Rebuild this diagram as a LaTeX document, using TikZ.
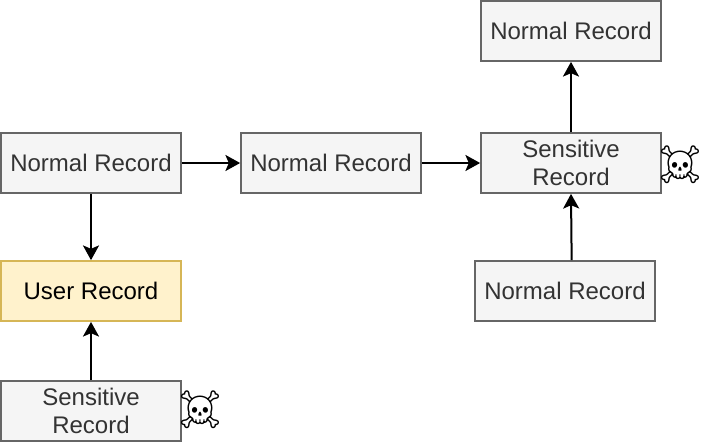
\documentclass[tikz,border=0pt]{standalone}
\usepackage{fontspec}
\setmainfont{Liberation Sans}
\newfontfamily\emojifont{Noto Emoji}
\usetikzlibrary{arrows.meta}
\definecolor{recfill}{HTML}{F5F5F5}
\definecolor{recline}{HTML}{666666}
\definecolor{userfill}{HTML}{FFF2CC}
\definecolor{userline}{HTML}{D6B656}
\tikzset{
	rec/.style={draw=recline,fill=recfill,line width=1.3pt,minimum width=135pt,minimum height=45pt,inner sep=0pt,align=center,text=black!80,font=\fontsize{18}{21}\selectfont},
	urec/.style={rec,draw=userline,fill=userfill,text=black},
	skull/.style={inner sep=0pt,font=\emojifont\fontsize{28}{28}\selectfont},
	conn/.style={-{Stealth[length=11pt,width=12pt,inset=2.5pt]},line width=1.5pt}
}
\begin{document}
\begin{tikzpicture}[x=0.75pt,y=-0.75pt]
	\useasboundingbox (0,0) rectangle (704,444);
	\node [rec] (n1) at (91,163) {Normal Record};
	\node [rec] (n2) at (331,163) {Normal Record};
	\node [rec] (s1) at (571,163) {Sensitive\\Record};
	\node [rec] (n3) at (571,31) {Normal Record};
	\node [rec] (n4) at (565,291) {Normal Record};
	\node [urec] (u1) at (91,291) {User Record};
	\node [rec] (s2) at (91,411) {Sensitive\\Record};
	\node [skull] (k1) at (680,165) {☠};
	\node [skull] (k2) at (200,410) {☠};
	\coordinate (n4top) at ([xshift=5pt]n4.north);

	\draw [conn] (n1) -- (n2);
	\draw [conn] (n2) -- (s1);
	\draw [conn] (s1) -- (n3);
	\draw [conn] (n4top) -- (s1.south);
	\draw [conn] (n1) -- (u1);
	\draw [conn] (s2) -- (u1);
\end{tikzpicture}
\end{document}
